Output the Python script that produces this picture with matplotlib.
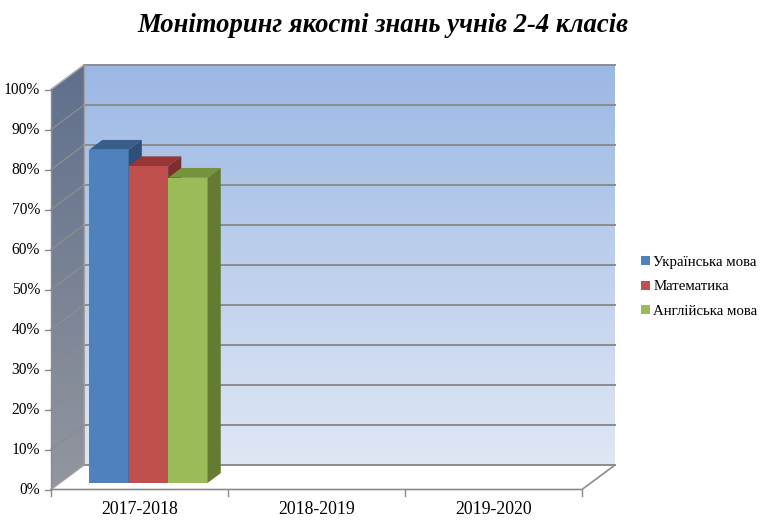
import numpy as np
import matplotlib
matplotlib.use("Agg")
import matplotlib.pyplot as plt
from matplotlib.patches import Polygon
from matplotlib.colors import LinearSegmentedColormap

plt.rcParams['font.family'] = ['Liberation Serif', 'DejaVu Serif']

# ---- data ----
years = ["2017-2018", "2018-2019", "2019-2020"]
subjects = ["Українська мова", "Математика", "Англійська мова"]
ukr = [83.3, np.nan, np.nan]
math = [79.2, np.nan, np.nan]
eng = [76.3, np.nan, np.nan]
yticks = [0, 10, 20, 30, 40, 50, 60, 70, 80, 90, 100]

# ---- style ----
FRONT = ["#4F81BD", "#C0504D", "#9BBB59"]
TOP = ["#385D8A", "#963735", "#76923C"]
SIDE = ["#2F4E78", "#7E2E2C", "#637C32"]
GRID = "#8C8C8C"
DX, DY = 0.186, 6.1          # wall depth offset (category units, %)
D0, D1 = 0.27, 0.67          # bar depth range inside the box
BW = 0.223                   # bar width

fig = plt.figure(figsize=(7.78, 5.25), dpi=100)
ax = fig.add_axes([0, 0, 1, 1])
ax.set_xlim(-51 / 177, 727 / 177)
ax.set_ylim(-35.5 / 4, 489.5 / 4)
ax.axis("off")
n = len(years)

# back wall (gradient)
back = LinearSegmentedColormap.from_list("b", ["#E0E7F5", "#9BB8E4"])
grad = np.linspace(0, 1, 256).reshape(-1, 1)
ax.imshow(grad, cmap=back, origin="lower", aspect="auto",
          extent=(DX, n + DX, DY, 100 + DY), zorder=0)
# side wall (gradient clipped to parallelogram)
side = LinearSegmentedColormap.from_list("s", ["#92969F", "#5F6F8C"])
sw = Polygon([(0, 0), (DX, DY), (DX, 100 + DY), (0, 100)], closed=True,
             fc="none", ec="none")
ax.add_patch(sw)
im = ax.imshow(grad, cmap=side, origin="lower", aspect="auto",
               extent=(0, DX, 0, 100 + DY), zorder=0)
im.set_clip_path(sw)
# floor
ax.add_patch(Polygon([(0, 0), (n, 0), (n + DX, DY), (DX, DY)], closed=True,
                     fc="white", ec="none", zorder=1))
ax.plot([0, n, n + DX], [0, 0, DY], color=GRID, lw=1.2, zorder=2)
ax.plot([0, DX], [0, DY], color="#A0A0A0", lw=1.0, zorder=2)

# gridlines on back and side wall
for v in yticks:
    ax.plot([DX, n + DX], [v + DY, v + DY], color=GRID, lw=1.4, zorder=2)
    if v > 0:
        ax.plot([0, DX], [v, v + DY], color=GRID, lw=1.0, zorder=2)
ax.plot([DX, DX], [DY, 100 + DY], color="#A0A0A0", lw=0.8, zorder=2)
ax.plot([0, DX], [100, 100 + DY], color="#B0B0B0", lw=0.8, zorder=2)

# axes lines and ticks
ax.plot([0, 0], [0, 100], color=GRID, lw=1.0, zorder=3)
for v in yticks:
    ax.plot([-6 / 177, 0], [v, v], color=GRID, lw=1.0, zorder=3)
    ax.text(-11 / 177, v, f"{v}%", ha="right", va="center", fontsize=11.2)
for i in range(n + 1):
    ax.plot([i, i], [0, -1.6], color=GRID, lw=1.0, zorder=3)
for i, yr in enumerate(years):
    ax.text(i + 0.5, -5.0, yr, ha="center", va="center", fontsize=12.8)

# 3D columns
x0 = np.arange(n) + 0.5 + D0 * DX
base = D0 * DY
dd = D1 - D0
handles = []
for k, vals in enumerate([ukr, math, eng]):
    vals = np.asarray(vals, float)
    xs = x0 + (k - 1) * BW
    h = np.nan_to_num(vals)
    bars = ax.bar(xs, h, BW, bottom=base, color=FRONT[k], lw=0, zorder=4 + k)
    handles.append(bars)
    for xc, v in zip(xs, vals):
        if np.isnan(v):
            continue
        l, r, t = xc - BW / 2, xc + BW / 2, base + v
        ax.add_patch(Polygon([(l, t), (r, t), (r + dd * DX, t + dd * DY),
                              (l + dd * DX, t + dd * DY)], closed=True,
                             fc=TOP[k], ec="none", zorder=4 + k))
        ax.add_patch(Polygon([(r, base), (r + dd * DX, base + dd * DY),
                              (r + dd * DX, t + dd * DY), (r, t)], closed=True,
                             fc=SIDE[k], ec="none", zorder=4 + k))

fig.text(0.492, 1 - 26 / 525, "Моніторинг якості знань учнів 2-4 класів",
         ha="center", va="center", fontsize=19.2, fontweight="bold", fontstyle="italic")
fig.legend(handles, subjects, loc="center left", bbox_to_anchor=(634 / 778, 1 - 287 / 525),
           frameon=False, fontsize=10.7, handlelength=0.55, handleheight=0.55,
           handletextpad=0.25, labelspacing=0.78, borderpad=0)

fig.savefig("out.png", dpi=100)
